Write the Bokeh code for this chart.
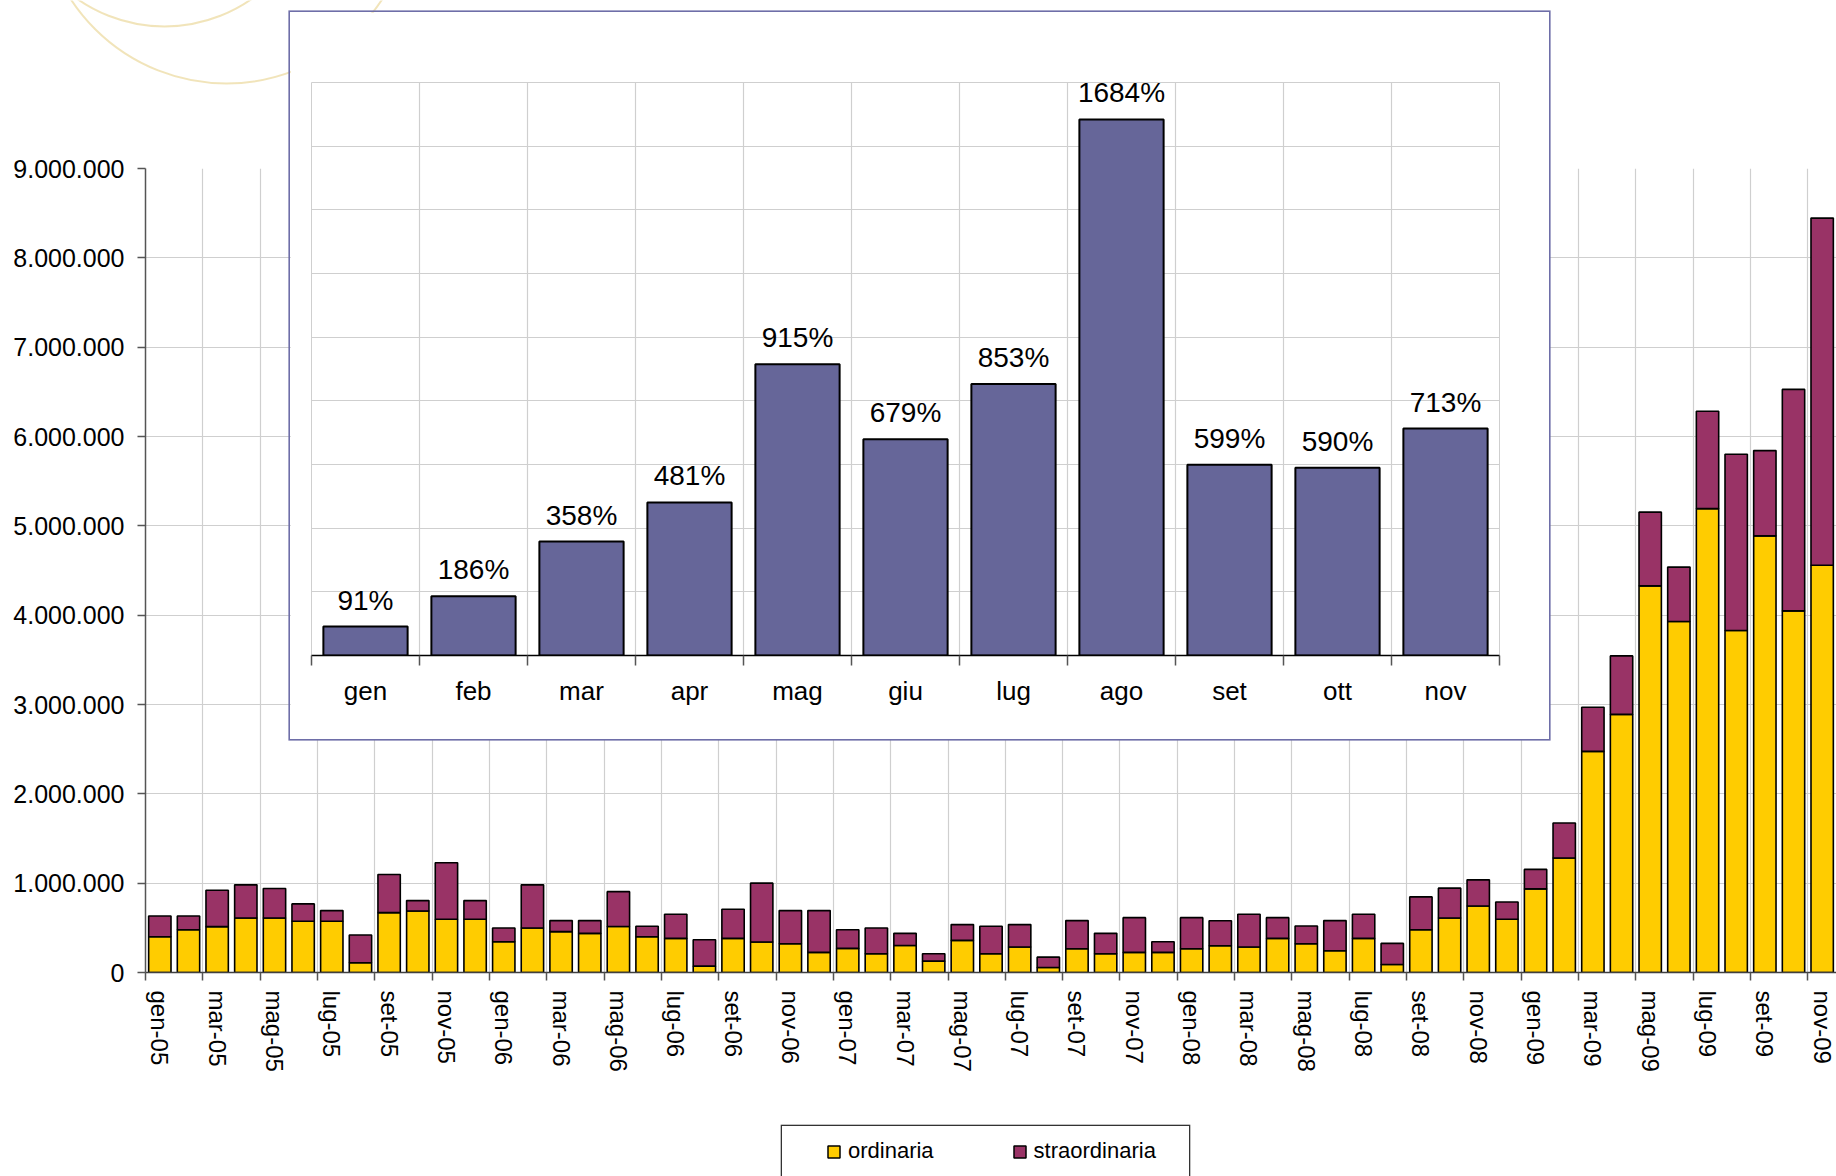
from bokeh.plotting import figure
from bokeh.models import (Range1d, FixedTicker, ColumnDataSource, Legend, LegendItem, LabelSet)
from bokeh.core.properties import value
from bokeh.embed import file_html
from bokeh.resources import INLINE

# ---------------- data ----------------
months = [
    "gen-05", "feb-05", "mar-05", "apr-05", "mag-05", "giu-05", "lug-05", "ago-05", "set-05", "ott-05", "nov-05", "dic-05",
    "gen-06", "feb-06", "mar-06", "apr-06", "mag-06", "giu-06", "lug-06", "ago-06", "set-06", "ott-06", "nov-06", "dic-06",
    "gen-07", "feb-07", "mar-07", "apr-07", "mag-07", "giu-07", "lug-07", "ago-07", "set-07", "ott-07", "nov-07", "dic-07",
    "gen-08", "feb-08", "mar-08", "apr-08", "mag-08", "giu-08", "lug-08", "ago-08", "set-08", "ott-08", "nov-08", "dic-08",
    "gen-09", "feb-09", "mar-09", "apr-09", "mag-09", "giu-09", "lug-09", "ago-09", "set-09", "ott-09", "nov-09",
]

ordinaria = [
    400000, 479000, 513000, 610000, 610000, 573000, 573000, 109000, 670000, 689000, 596000, 596000,
    345000, 498000, 457000, 438000, 515000, 401000, 382000, 71000, 382000, 341000, 322000, 225000,
    270000, 210000, 303000, 127000, 360000, 210000, 285000, 56000, 266000, 210000, 225000, 225000,
    266000, 300000, 285000, 382000, 322000, 243000, 382000, 90000, 479000, 610000, 745000, 596000,
    936000, 1281000, 2475000, 2890000, 4328000, 3929000, 5193000, 3829000, 4888000, 4048000, 4558000,
]

straordinaria = [
    233000, 154000, 408000, 371000, 330000, 195000, 120000, 310000, 427000, 116000, 632000, 209000,
    153000, 483000, 124000, 143000, 390000, 116000, 270000, 296000, 326000, 659000, 371000, 468000,
    209000, 288000, 135000, 83000, 176000, 307000, 251000, 116000, 315000, 228000, 389000, 120000,
    348000, 279000, 367000, 232000, 199000, 338000, 270000, 236000, 367000, 334000, 292000, 194000,
    218000, 393000, 495000, 654000, 825000, 609000, 1089000, 1973000, 954000, 2479000, 3887000,
]

y_ticks = [0, 1000000, 2000000, 3000000, 4000000, 5000000, 6000000, 7000000, 8000000, 9000000]

mesi_2009 = ["gen", "feb", "mar", "apr", "mag", "giu", "lug", "ago", "set", "ott", "nov"]
variazione = [91, 186, 358, 481, 915, 679, 853, 1684, 599, 590, 713]
inset_y_ticks = [0, 200, 400, 600, 800, 1000, 1200, 1400, 1600, 1800]

legend_labels = ["ordinaria", "straordinaria"]

# decorative watermark rings in the top-left corner (page pixels)
ring_x = [164, 226]
ring_y = [-126, -103]
ring_r = [152, 186]

# ---------------- style ----------------
FONT = "Liberation Sans"
YELLOW = "#FFCC00"
PURPLE = "#993366"
INSET_BAR = "#666699"
GRID = "#CFCFCF"

# ---------------- main chart ----------------
n = len(months)
xc = [i + 0.5 for i in range(n)]
src = ColumnDataSource(dict(x=xc, ordinaria=ordinaria, straordinaria=straordinaria, month=months))

p = figure(width=1836, height=1176,
           x_range=Range1d(0, n), y_range=Range1d(0, y_ticks[-1]),
           output_backend="svg", toolbar_location=None,
           min_border_left=145, min_border_right=0, min_border_top=168, min_border_bottom=204)
p.background_fill_color = "white"
p.border_fill_color = "white"
p.outline_line_color = None

rs = p.vbar_stack(["ordinaria", "straordinaria"], x="x", width=0.78, source=src,
                  fill_color=[YELLOW, PURPLE], line_color="black", line_width=1.6)

label_pos = [i + 0.5 for i in range(0, n, 2)]
p.xaxis.ticker = FixedTicker(ticks=label_pos, minor_ticks=list(range(0, n + 1, 2)))
p.xaxis.major_label_overrides = {i + 0.5: months[i] for i in range(0, n, 2)}
p.xaxis.major_label_orientation = "vertical"
p.xaxis.major_tick_line_color = None
p.xaxis.major_tick_out = 8
p.xaxis.major_tick_in = 0
p.xaxis.minor_tick_out = 8
p.xaxis.minor_tick_in = 0
p.xaxis.minor_tick_line_color = "#555555"
p.xaxis.minor_tick_line_width = 1.5
p.xaxis.axis_line_color = "#404040"
p.xaxis.axis_line_width = 1.5
p.xaxis.major_label_standoff = 10
p.xaxis.major_label_text_font = FONT
p.xaxis.major_label_text_font_size = "24px"
p.xaxis.major_label_text_color = "black"

p.yaxis.ticker = FixedTicker(ticks=y_ticks)
p.yaxis.major_label_overrides = {v: f"{v:,}".replace(",", ".") for v in y_ticks}
p.yaxis.major_tick_out = 8
p.yaxis.major_tick_in = 0
p.yaxis.minor_tick_line_color = None
p.yaxis.major_tick_line_color = "#555555"
p.yaxis.major_tick_line_width = 1.5
p.yaxis.axis_line_color = "#555555"
p.yaxis.axis_line_width = 1.5
p.yaxis.major_label_standoff = 13
p.yaxis.major_label_text_font = FONT
p.yaxis.major_label_text_font_size = "25px"
p.yaxis.major_label_text_color = "black"

p.xgrid.ticker = FixedTicker(ticks=list(range(0, n + 1, 2)))
p.ygrid.ticker = FixedTicker(ticks=y_ticks)
p.xgrid.grid_line_color = GRID
p.ygrid.grid_line_color = GRID
p.xgrid.grid_line_width = 1.2
p.ygrid.grid_line_width = 1.2

# ---------------- decorative rings (top-left watermark) ----------------
deco = figure(width=420, height=110, x_range=Range1d(0, 420), y_range=Range1d(110, 0),
              x_axis_location=None, y_axis_location=None,
              output_backend="svg", toolbar_location=None,
              min_border_left=0, min_border_right=0, min_border_top=0, min_border_bottom=0)
deco.xgrid.visible = False
deco.ygrid.visible = False
deco.outline_line_color = None
deco.background_fill_alpha = 0
deco.border_fill_alpha = 0
deco.circle(x=ring_x, y=ring_y, radius=ring_r, fill_color=None,
            line_color="#EEDFAE", line_width=2.0, line_alpha=0.85)
deco.stylesheets = [":host { position: absolute !important; left: 0px !important; top: 0px !important; z-index: 1; }"]

# ---------------- inset chart (percent change 2009 vs 2008) ----------------
m = len(mesi_2009)
ic = [i + 0.5 for i in range(m)]
isrc = ColumnDataSource(dict(x=ic, v=variazione, lab=[f"{v}%" for v in variazione]))

q = figure(width=1259, height=727,
           x_range=Range1d(0, m), y_range=Range1d(0, inset_y_ticks[-1]),
           y_axis_location=None,
           output_backend="svg", toolbar_location=None,
           min_border_left=21, min_border_right=50, min_border_top=70, min_border_bottom=84)
q.background_fill_color = "white"
q.border_fill_color = "white"
q.outline_line_color = GRID

q.vbar(x="x", top="v", width=0.78, source=isrc,
       fill_color=INSET_BAR, line_color="black", line_width=2)

q.add_layout(LabelSet(x="x", y="v", text="lab", source=isrc, y_offset=17,
                      text_align="center", text_baseline="alphabetic",
                      text_font=value(FONT), text_font_size=value("28px"),
                      text_color="black"))

q.xaxis.ticker = FixedTicker(ticks=ic, minor_ticks=list(range(0, m + 1)))
q.xaxis.major_label_overrides = {i + 0.5: mesi_2009[i] for i in range(m)}
q.xaxis.major_tick_line_color = None
q.xaxis.major_tick_out = 10
q.xaxis.major_tick_in = 0
q.xaxis.minor_tick_out = 10
q.xaxis.minor_tick_in = 0
q.xaxis.minor_tick_line_color = "#555555"
q.xaxis.minor_tick_line_width = 1.5
q.xaxis.axis_line_color = "black"
q.xaxis.axis_line_width = 1.5
q.xaxis.major_label_standoff = 10
q.xaxis.major_label_text_font = FONT
q.xaxis.major_label_text_font_size = "26px"
q.xaxis.major_label_text_color = "black"

q.xgrid.ticker = FixedTicker(ticks=list(range(0, m + 1)))
q.ygrid.ticker = FixedTicker(ticks=inset_y_ticks)
q.xgrid.grid_line_color = GRID
q.ygrid.grid_line_color = GRID
q.xgrid.grid_line_width = 1.2
q.ygrid.grid_line_width = 1.2

q.stylesheets = [":host { position: absolute !important; left: 290px !important; top: 12px !important; "
                 "box-shadow: 0 0 0 1.6px #6E6EA8; z-index: 2; }"]

# ---------------- legend box (below the main chart) ----------------
lf = figure(width=407, height=50, x_range=Range1d(0, 1), y_range=Range1d(0, 1),
            x_axis_location=None, y_axis_location=None,
            output_backend="svg", toolbar_location=None,
            min_border_left=0, min_border_right=0, min_border_top=0, min_border_bottom=0)
lf.xgrid.visible = False
lf.ygrid.visible = False
lf.background_fill_color = "white"
lf.border_fill_color = "white"
lf.outline_line_color = None
r_ord = lf.vbar(x="x", top="ordinaria", width=0.78, source=src,
                fill_color=YELLOW, line_color="black", line_width=1.5, visible=False)
r_str = lf.vbar(x="x", top="straordinaria", width=0.78, source=src,
                fill_color=PURPLE, line_color="black", line_width=1.5, visible=False)
leg = Legend(items=[LegendItem(label=legend_labels[0], renderers=[r_ord]),
                    LegendItem(label=legend_labels[1], renderers=[r_str])],
             orientation="horizontal", location=(44, 12),
             glyph_width=15, glyph_height=15, label_standoff=7, spacing=78,
             padding=0, margin=0,
             label_text_font=FONT, label_text_font_size="22px", label_text_color="black",
             border_line_color=None, background_fill_alpha=0.0)
lf.add_layout(leg, "center")
lf.stylesheets = [":host { position: absolute !important; left: 782px !important; top: 1126px !important; "
                  "box-shadow: 0 0 0 1.3px #333333; z-index: 2; }"]

open("out.html", "w").write(file_html([p, deco, q, lf], INLINE))
